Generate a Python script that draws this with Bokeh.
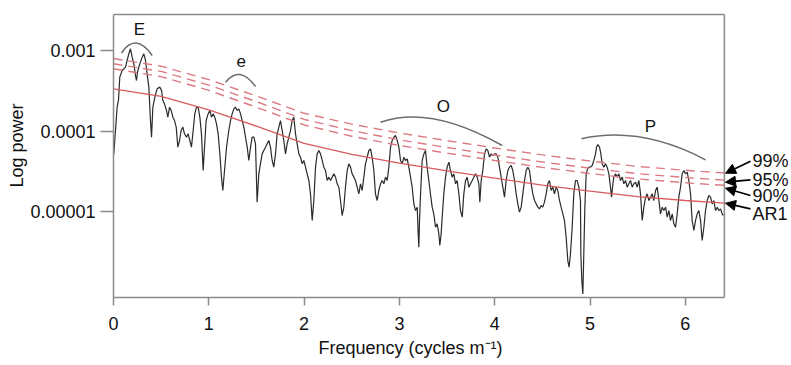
import math
from bokeh.plotting import figure
from bokeh.models import (Range1d, FixedTicker, CustomJSTickFormatter, Title,
                          Arrow, NormalHead, ColumnDataSource)
from bokeh.embed import file_html
from bokeh.resources import INLINE
from bokeh.core.properties import value

# ---------------- data ----------------
# spectrum: frequency (cycles per m) and log10 power
freq = [
    0.003, 0.021, 0.038, 0.052, 0.066, 0.091, 0.126, 0.143, 0.161, 0.178,
    0.196, 0.213, 0.231, 0.241, 0.255, 0.276, 0.301, 0.318, 0.336, 0.353,
    0.371, 0.388, 0.399, 0.413, 0.434, 0.458, 0.486, 0.504, 0.518, 0.535,
    0.556, 0.570, 0.588, 0.605, 0.623, 0.640, 0.658, 0.675, 0.693, 0.710,
    0.728, 0.745, 0.766, 0.783, 0.801, 0.818, 0.836, 0.853, 0.871, 0.888,
    0.906, 0.923, 0.941, 0.955, 0.972, 0.993, 1.011, 1.028, 1.046, 1.063,
    1.081, 1.098, 1.116, 1.133, 1.147, 1.165, 1.186, 1.210, 1.228, 1.245,
    1.263, 1.280, 1.298, 1.315, 1.333, 1.350, 1.368, 1.385, 1.403, 1.420,
    1.438, 1.455, 1.473, 1.490, 1.507, 1.525, 1.542, 1.560, 1.577, 1.595,
    1.612, 1.630,
    1.647, 1.665, 1.682, 1.700, 1.717, 1.735, 1.752, 1.770, 1.787, 1.805,
    1.822, 1.840, 1.857, 1.875, 1.892, 1.910, 1.927, 1.945, 1.962, 1.980,
    1.997, 2.015, 2.032, 2.050, 2.067, 2.085, 2.102, 2.120, 2.137, 2.155,
    2.172, 2.190, 2.207, 2.225, 2.242, 2.260, 2.277, 2.295, 2.312, 2.330,
    2.347, 2.365, 2.382, 2.399, 2.417, 2.434, 2.452, 2.469, 2.487, 2.504,
    2.522, 2.539, 2.557, 2.574, 2.592, 2.609, 2.627, 2.644, 2.662, 2.679,
    2.697, 2.714, 2.732, 2.749, 2.767, 2.784, 2.802, 2.819, 2.837, 2.854,
    2.872, 2.889, 2.907, 2.924, 2.942, 2.959, 2.977, 2.994, 3.012, 3.029,
    3.047, 3.064, 3.082, 3.099, 3.117, 3.134, 3.152, 3.169, 3.187, 3.197,
    3.204, 3.211, 3.222, 3.239, 3.257, 3.274,
    3.291, 3.309, 3.326, 3.344, 3.361, 3.379, 3.396, 3.414, 3.424, 3.438,
    3.449, 3.466, 3.484, 3.501, 3.519, 3.536, 3.554, 3.571, 3.589, 3.606,
    3.624, 3.641, 3.659, 3.676, 3.694, 3.711, 3.729, 3.746, 3.764, 3.781,
    3.799, 3.816, 3.834, 3.844, 3.858, 3.875, 3.893, 3.910, 3.928, 3.945,
    3.963, 3.980, 3.998, 4.015, 4.033, 4.050, 4.068, 4.085, 4.103, 4.120,
    4.138, 4.155, 4.173, 4.190, 4.208, 4.225, 4.243, 4.260, 4.278, 4.295,
    4.313, 4.330, 4.348, 4.365, 4.383, 4.400, 4.418, 4.435, 4.453, 4.470,
    4.488, 4.505, 4.522, 4.540, 4.557, 4.575, 4.592, 4.610, 4.627, 4.645,
    4.662, 4.680, 4.697, 4.715, 4.732, 4.750, 4.767, 4.781, 4.795, 4.813,
    4.830, 4.848, 4.865, 4.883, 4.900,
    4.904, 4.914, 4.925, 4.935, 4.946, 4.960, 4.974, 4.988, 5.005, 5.023,
    5.040, 5.058, 5.068, 5.082, 5.100, 5.114, 5.128, 5.145, 5.163, 5.180,
    5.198, 5.215, 5.226, 5.240, 5.250, 5.268, 5.285, 5.303, 5.320, 5.338,
    5.355, 5.373, 5.390, 5.408, 5.425, 5.443, 5.460, 5.478, 5.495, 5.513,
    5.530, 5.548, 5.565, 5.583, 5.600, 5.618, 5.635, 5.653, 5.670, 5.688,
    5.705, 5.723, 5.740, 5.758, 5.775, 5.793, 5.810, 5.828, 5.845, 5.863,
    5.880, 5.898, 5.915, 5.932, 5.950, 5.967, 5.985, 6.002, 6.020, 6.037,
    6.055, 6.072, 6.090, 6.107, 6.125, 6.142, 6.160, 6.177, 6.195, 6.212,
    6.230, 6.247, 6.265, 6.282, 6.300, 6.317, 6.335, 6.352, 6.370, 6.387,
    6.398,
]
log_power = [
    -4.284, -3.994, -3.704, -3.621, -3.331, -3.248, -3.207, -3.124, -3.041, -2.979,
    -3.083, -3.166, -3.311, -3.373, -3.248, -3.166, -3.083, -3.041, -3.124, -3.290,
    -3.455, -3.870, -4.077, -3.704, -3.580, -3.476, -3.455, -3.497, -3.621, -3.663,
    -3.745, -3.828, -3.704, -3.745, -3.828, -3.870, -3.952, -4.201, -4.118, -3.994,
    -3.952, -4.035, -4.077, -4.035, -4.118, -4.201, -3.994, -3.787, -3.704, -3.704,
    -3.828, -4.035, -4.491, -4.201, -3.870, -3.787, -3.745, -3.828, -3.787, -3.828,
    -3.911, -4.035, -4.284, -4.573, -4.739, -4.491, -4.201, -3.994, -3.870, -3.787,
    -3.725, -3.704, -3.745, -3.725, -3.787, -3.870, -3.952, -4.077, -4.201, -4.366,
    -4.201, -4.077, -4.077, -4.159, -4.884, -4.532, -4.408, -4.284, -4.242, -4.201,
    -4.159, -4.118,
    -4.201, -4.366, -4.449, -4.284, -4.035, -3.952, -3.870, -3.994, -4.118, -4.284,
    -4.159, -4.077, -3.994, -3.870, -3.828, -4.035, -4.159, -4.284, -4.325, -4.408,
    -4.366, -4.449, -4.532, -4.615, -4.781, -5.112, -4.863, -4.449, -4.284, -4.242,
    -4.284, -4.366, -4.449, -4.491, -4.615, -4.573, -4.615, -4.573, -4.532, -4.573,
    -4.656, -4.698, -4.863, -5.050, -4.946, -4.698, -4.491, -4.408, -4.449, -4.532,
    -4.573, -4.615, -4.698, -4.781, -4.656, -4.739, -4.573, -4.408, -4.325, -4.242,
    -4.222, -4.325, -4.491, -4.781, -4.863, -4.739, -4.656, -4.615, -4.656, -4.573,
    -4.615, -4.449, -4.201, -4.118, -4.077, -4.056, -4.118, -4.201, -4.366, -4.408,
    -4.325, -4.366, -4.346, -4.449, -4.573, -4.698, -4.905, -4.988, -4.946, -5.277,
    -5.443, -5.112, -4.781, -4.366, -4.284, -4.242,
    -4.449, -4.615, -4.781, -4.946, -5.029, -5.195, -5.153, -5.277, -5.422, -5.277,
    -5.070, -4.781, -4.573, -4.449, -4.387, -4.491, -4.573, -4.532, -4.656, -4.615,
    -4.781, -4.988, -5.070, -4.781, -4.615, -4.573, -4.698, -4.656, -4.615, -4.573,
    -4.532, -4.573, -4.656, -4.884, -4.615, -4.491, -4.284, -4.222, -4.242, -4.325,
    -4.284, -4.304, -4.284, -4.284, -4.325, -4.449, -4.573, -4.698, -4.822, -4.615,
    -4.491, -4.449, -4.429, -4.491, -4.615, -4.781, -4.905, -5.008, -4.946, -4.781,
    -4.615, -4.491, -4.449, -4.491, -4.656, -4.781, -4.863, -4.905, -4.946, -4.967,
    -4.925, -4.946, -4.884, -4.781, -4.656, -4.615, -4.739, -4.698, -4.781, -4.698,
    -4.739, -4.863, -4.946, -5.029, -5.112, -5.319, -5.609, -5.692, -5.526, -5.195,
    -4.781, -4.615, -4.615, -4.698, -4.863,
    -5.526, -5.857, -6.023, -5.526, -4.946, -4.532, -4.470, -4.449, -4.449, -4.429,
    -4.366, -4.284, -4.201, -4.168, -4.201, -4.284, -4.408, -4.449, -4.408, -4.449,
    -4.532, -4.698, -4.822, -4.656, -4.573, -4.532, -4.573, -4.532, -4.615, -4.573,
    -4.656, -4.615, -4.698, -4.656, -4.615, -4.698, -4.656, -4.636, -4.698, -4.615,
    -4.781, -5.112, -4.946, -4.822, -4.781, -4.863, -4.822, -4.781, -4.863, -4.739,
    -4.698, -4.863, -5.029, -4.946, -4.988, -4.946, -5.070, -4.988, -5.112, -5.029,
    -5.153, -5.195, -5.029, -4.822, -4.698, -4.532, -4.491, -4.532, -4.511, -4.615,
    -4.781, -5.112, -5.236, -5.112, -5.029, -4.988, -5.112, -5.360, -5.195, -4.988,
    -4.863, -4.801, -4.822, -4.905, -4.863, -4.988, -4.946, -4.988, -4.967, -5.029,
    -5.050,
]

# AR1 red-noise fit and confidence levels (log10 power), read at these frequencies
ref_freq = [0.0, 0.5, 1.0, 1.5, 2.0, 2.5, 3.0, 3.5, 4.0, 4.5, 5.0, 5.5, 6.0, 6.41]
ar1_log = [-3.476, -3.570, -3.737, -3.940, -4.155, -4.290, -4.400, -4.495, -4.586, -4.672, -4.748, -4.815, -4.863, -4.896]
c90_log = [-3.227, -3.325, -3.495, -3.705, -3.925, -4.065, -4.180, -4.275, -4.366, -4.452, -4.528, -4.595, -4.643, -4.675]
c95_log = [-3.165, -3.260, -3.430, -3.635, -3.855, -3.995, -4.110, -4.205, -4.298, -4.385, -4.462, -4.530, -4.578, -4.610]
c99_log = [-3.100, -3.195, -3.362, -3.565, -3.780, -3.915, -4.025, -4.120, -4.211, -4.297, -4.373, -4.440, -4.488, -4.522]

# axis ticks and extent of the data panel
x_ticks = [0, 1, 2, 3, 4, 5, 6]
y_ticks = [1e-3, 1e-4, 1e-5]
x_end = 6.41
y_lo_log, y_hi_log = -6.068, -2.553

# band annotations (arcs + letters)
band_names = ["E", "e", "O", "P"]
arc_f0 = [0.084, 1.175, 2.802, 4.911]
arc_f1 = [0.406, 1.490, 4.079, 6.212]
arc_fc = [0.231, 1.322, 3.326, 5.530]
arc_l0 = [-3.031, -3.394, -3.891, -4.097]
arc_l1 = [-3.062, -3.447, -4.180, -4.358]
arc_lc = [-2.770, -3.176, -3.671, -3.932]
name_f = [0.273, 1.340, 3.460, 5.635]
name_l = [-2.740, -3.133, -3.700, -3.941]

# right-hand level labels with arrows
level_names = ["99%", "95%", "90%", "AR1"]
level_text_l = [-4.367, -4.603, -4.802, -5.025]
arrow_tail_l = [-4.375, -4.606, -4.801, -4.966]
arrow_head_l = [-4.524, -4.636, -4.711, -4.897]

# ---------------- figure ----------------
FONT = "Liberation Sans"
GREY = "#8a8a8a"
W, H = 791, 365
PX_PER_UNIT = 95.3
LEFT = 113
frame_w = W - LEFT
to_pw = lambda arr: [10 ** v for v in arr]

p = figure(width=W, height=H, output_backend="svg", toolbar_location=None,
           y_axis_type="log",
           x_range=Range1d(0, frame_w / PX_PER_UNIT),
           y_range=Range1d(10 ** y_lo_log, 10 ** (y_hi_log + 2.0 / 80.5)),
           min_border_left=LEFT, min_border_right=0,
           min_border_top=12, min_border_bottom=68)
p.xgrid.visible = False
p.ygrid.visible = False
p.outline_line_color = None
p.background_fill_color = "white"
p.border_fill_color = "white"

xa = p.xaxis[0]
xa.ticker = FixedTicker(ticks=x_ticks)
xa.bounds = (0, x_end)
xa.minor_tick_line_color = None
xa.major_tick_in = 0
xa.major_tick_out = 8
xa.axis_line_color = GREY
xa.axis_line_width = 1.5
xa.major_tick_line_color = GREY
xa.major_tick_line_width = 1.5
xa.major_label_text_font = FONT
xa.major_label_text_font_size = "18px"
xa.major_label_text_color = "#111111"
xa.major_label_standoff = 11

ya = p.yaxis[0]
ya.ticker = FixedTicker(ticks=y_ticks)
ya.bounds = (10 ** y_lo_log, 10 ** y_hi_log)
ya.formatter = CustomJSTickFormatter(code="return tick.toFixed(Math.round(-Math.log10(tick)));")
ya.minor_tick_line_color = None
ya.major_tick_in = 0
ya.major_tick_out = 13
ya.axis_line_color = GREY
ya.axis_line_width = 1.5
ya.major_tick_line_color = GREY
ya.major_tick_line_width = 1.5
ya.major_label_text_font = FONT
ya.major_label_text_font_size = "18px"
ya.major_label_text_color = "#111111"
ya.major_label_standoff = 5

# axis titles (as titles so they can be shifted along the panel)
p.add_layout(Title(text="Frequency (cycles m\u207b\u00b9)", align="left", offset=205,
                   standoff=6, text_font=FONT, text_font_size="18px",
                   text_font_style="normal", text_color="#111111"), "below")
p.add_layout(Title(text="Log power", align="left", offset=110, standoff=2,
                   text_font=FONT, text_font_size="18px",
                   text_font_style="normal", text_color="#111111"), "left")

# top and right borders of the data panel
p.segment(x0=[0, x_end], y0=[10 ** y_hi_log, 10 ** y_lo_log],
          x1=[x_end, x_end], y1=[10 ** y_hi_log, 10 ** y_hi_log],
          line_color=GREY, line_width=1.5)

# spectrum
spec = ColumnDataSource(dict(f=freq, pw=to_pw(log_power)))
p.line("f", "pw", source=spec, line_color="#2b2b2b", line_width=1.2)

# AR1 and confidence levels
for arr in (c99_log, c95_log, c90_log):
    p.line(ref_freq, to_pw(arr), line_color="#dc7a82", line_width=1.4, line_dash="9 6")
p.line(ref_freq, to_pw(ar1_log), line_color="#d65a5e", line_width=1.3)

# arcs over bands
p.quadratic(x0=arc_f0, y0=to_pw(arc_l0), x1=arc_f1, y1=to_pw(arc_l1),
            cx=arc_fc, cy=to_pw(arc_lc), line_color="#6e6e6e", line_width=1.5)
p.text(x=name_f, y=to_pw(name_l), text=band_names, text_font=value(FONT),
       text_font_size="17px", text_align="center", text_baseline="alphabetic",
       text_color="#111111")

# right-hand labels and arrows
x_text = 6.705
x_tail = 6.684
x_head = 6.422
p.text(x=[x_text] * len(level_names), y=to_pw(level_text_l), text=level_names,
       text_font=value(FONT), text_font_size="18px", text_align="left",
       text_baseline="alphabetic", text_color="#111111")
for ta, he in zip(arrow_tail_l, arrow_head_l):
    p.add_layout(Arrow(x_start=x_tail, y_start=10 ** ta, x_end=x_head, y_end=10 ** he,
                       line_color="black", line_width=1.8,
                       end=NormalHead(size=10, fill_color="black", line_color="black")))

open("out.html", "w").write(file_html(p, INLINE))
